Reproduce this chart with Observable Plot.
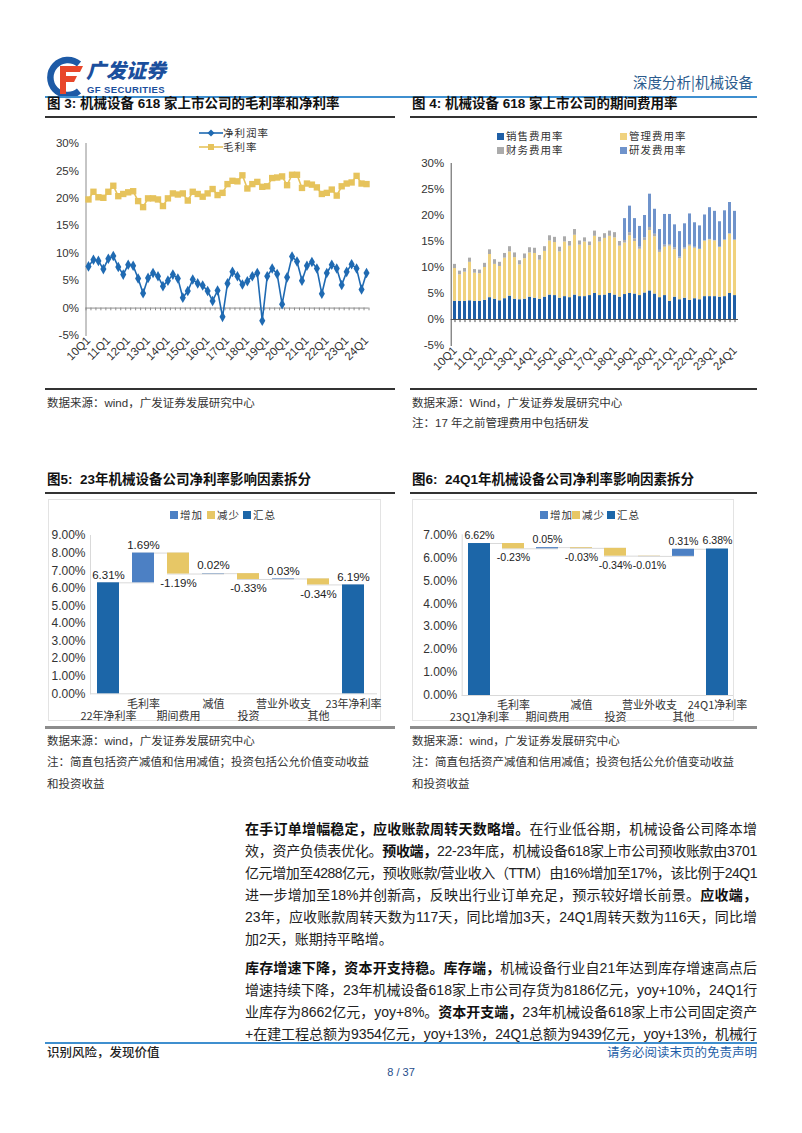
<!DOCTYPE html>
<html><head><meta charset="utf-8">
<script src="https://cdn.jsdelivr.net/npm/d3@7"></script>
<script src="https://cdn.jsdelivr.net/npm/@observablehq/plot@0.6"></script>
<style>
body{margin:0;background:#fff;}
#page{position:relative;width:802px;height:1133px;overflow:hidden;font-family:"Liberation Sans","Noto Sans CJK SC",sans-serif;color:#222;background:#fff;}
.abs{position:absolute;white-space:nowrap;}
.title{font-size:13.5px;font-weight:bold;color:#111;line-height:16px;}
.src{font-size:11.5px;color:#333;line-height:14px;}
.hl{position:absolute;}
.bl{position:absolute;left:245px;width:512px;font-size:14px;line-height:22px;height:22px;text-align:justify;text-align-last:justify;white-space:nowrap;color:#222;}
.bl b{font-weight:700;color:#111;}
.leg{font-size:10.5px;color:#333;letter-spacing:1px;line-height:12px;font-family:"Noto Sans CJK SC",sans-serif;}
.sw{display:inline-block;width:7px;height:7px;margin-right:2px;vertical-align:0px;}
.plot{position:absolute;}
</style></head>
<body><div id="page"></div>
<script>
// ---------------- DATA ----------------
const quarterLabels = ["10Q1","10Q2","10Q3","10Q4","11Q1","11Q2","11Q3","11Q4","12Q1","12Q2","12Q3","12Q4","13Q1","13Q2","13Q3","13Q4","14Q1","14Q2","14Q3","14Q4","15Q1","15Q2","15Q3","15Q4","16Q1","16Q2","16Q3","16Q4","17Q1","17Q2","17Q3","17Q4","18Q1","18Q2","18Q3","18Q4","19Q1","19Q2","19Q3","19Q4","20Q1","20Q2","20Q3","20Q4","21Q1","21Q2","21Q3","21Q4","22Q1","22Q2","22Q3","22Q4","23Q1","23Q2","23Q3","23Q4","24Q1"];
const axisQuarterTicks = ["10Q1","11Q1","12Q1","13Q1","14Q1","15Q1","16Q1","17Q1","18Q1","19Q1","20Q1","21Q1","22Q1","23Q1","24Q1"];

// Fig 3 (%)
const netMargin = [7.6,8.8,8.6,7.1,9.0,9.5,7.5,6.1,7.9,7.7,5.4,2.7,5.5,6.4,5.8,4.0,5.0,6.1,5.4,1.9,3.1,5.2,4.5,4.1,3.1,1.3,3.2,-1.6,4.5,6.6,5.8,4.3,4.9,5.8,6.4,-2.3,5.8,7.2,6.2,0.7,5.6,9.4,8.5,5.0,7.7,8.4,7.2,2.6,6.4,7.9,7.2,4.2,6.6,8.0,7.2,3.4,6.4];
const grossMargin = [19.8,21.2,20.2,20.1,21.2,22.3,20.4,20.8,21.1,21.3,19.5,18.4,20.0,20.0,19.8,18.6,20.0,20.9,20.7,20.9,19.6,21.2,20.8,20.3,20.9,21.7,20.6,21.0,22.6,23.2,23.1,24.2,21.8,22.6,23.0,22.1,22.2,23.7,23.8,24.0,22.4,24.3,24.3,21.9,22.7,22.5,22.0,20.8,21.0,21.6,20.5,22.2,22.7,22.9,24.1,22.7,22.6];
const marginSeries = ["净利润率","毛利率"];

// Fig 4 (%)
const expenseKinds = ["销售费用率","管理费用率","财务费用率","研发费用率"];
const salesExp   = [3.5,3.5,3.5,3.6,3.5,3.5,3.7,4.2,3.9,3.6,4.0,4.5,3.9,3.8,3.9,4.3,4.1,3.9,4.3,4.7,4.6,4.1,4.4,4.2,4.7,4.4,4.4,4.6,5.0,4.6,4.7,5.0,4.7,4.3,4.8,5.0,4.9,4.6,5.1,5.5,4.9,4.2,4.6,3.5,4.3,3.8,4.1,3.7,4.0,3.8,4.4,4.4,4.4,4.3,4.4,5.0,4.6];
const adminExp   = [6.3,5.1,5.6,7.4,5.4,5.3,6.3,8.3,6.7,6.6,7.8,8.5,8.0,6.7,7.8,8.5,8.6,7.5,8.8,10.4,10.2,8.9,10.5,9.9,11.5,9.9,10.5,9.6,11.0,10.3,10.9,11.0,11.0,9.8,9.9,11.1,10.1,8.9,10.1,11.6,11.0,8.7,9.3,10.6,9.1,7.9,9.4,10.4,9.7,9.7,10.7,10.9,10.7,9.6,10.8,11.4,10.6];
const financeExp = [0.8,0.7,0.7,0.8,0.7,0.7,0.8,0.9,0.9,0.8,0.9,1.0,0.9,0.8,0.9,1.0,1.0,0.9,0.9,1.0,1.0,0.9,1.0,0.9,1.1,0.8,0.8,0.7,1.0,0.9,0.9,1.0,1.0,0.9,0.5,0.6,0.5,0.4,0.5,0.6,0.5,0.4,0.4,0.3,0.4,0.3,0.3,0.3,0.2,-0.3,-0.2,0.1,0.1,-0.4,0.1,0.1,0.1];
const rdExp      = [0,0,0,0,0,0,0,0,0,0,0,0,0,0,0,0,0,0,0,0,0,0,0,0,0,0,0,0,0,0,0,0,0,0,4.2,5.1,3.9,4.0,4.3,6.4,4.8,4.0,5.9,5.8,4.4,4.9,4.6,5.9,4.7,4.5,5.0,6.1,5.6,4.9,5.6,6.0,5.5];

// Fig 5 / Fig 6 waterfalls (%)
const bridgeLegend = ["增加","减少","汇总"];
const fig5Cats = ["22年净利率","毛利率","期间费用","减值","投资","营业外收支","其他","23年净利率"];
const fig5Vals = [6.31,1.69,-1.19,0.02,-0.33,0.03,-0.34,6.19];
const fig6Cats = ["23Q1净利率","毛利率","期间费用","减值","投资","营业外收支","其他","24Q1净利率"];
const fig6Vals = [6.62,-0.23,0.05,-0.03,-0.34,-0.01,0.31,6.38];
const totalFlags = [true,false,false,false,false,false,false,true];

// ---------------- PAGE ----------------
const page = document.getElementById("page");
function add(html){ page.insertAdjacentHTML("beforeend", html); }
function hline(x,y,w,h,c){ add(`<div class="hl" style="left:${x}px;top:${y}px;width:${w}px;height:${h}px;background:${c}"></div>`); }
function txt(x,y,cls,s,extra=""){ add(`<div class="abs ${cls}" style="left:${x}px;top:${y}px;${extra}">${s}</div>`); }
function place(node,x,y){ node.classList.add("plot"); node.style.left=x+"px"; node.style.top=y+"px"; page.appendChild(node); }

const GOLD="#E6C35C", NAVY="#1F6AB2";
const C_SALES="#1F5FA6", C_ADMIN="#F0D27E", C_FIN="#ABABAB", C_RD="#6F93CB";
const C_UP="#4C80C4", C_DOWN="#E7C766", C_TOT="#1C66A8";

// header / logo
add(`<svg class="abs" style="left:45px;top:55px" width="40" height="44" viewBox="0 0 40 44">
<path d="M34 9 A17.5 17.5 0 1 0 34 36" fill="none" stroke="#1d5aa6" stroke-width="6.5"/>
<path d="M15 11 H38 L35 17 H21 V21 H32 L29 27 H21 V39 H15 Z" fill="#e8472b"/></svg>`);
txt(86,59,"", "广发证券", "font-size:20px;font-weight:900;color:#1b4f9d;line-height:22px;font-family:'Noto Sans CJK SC';font-style:italic;");
txt(87,84,"", "GF SECURITIES", "font-size:9.5px;font-weight:bold;color:#1b4f9d;line-height:11px;letter-spacing:0.4px;");
txt(633,73,"", "深度分析|机械设备", "font-size:14.5px;color:#2b5b8d;line-height:18px;font-family:'Noto Sans CJK SC';");
hline(45,96,712,2,"#3f8fcf");

// titles
txt(47,96,"title","图 3:&nbsp;机械设备 618 家上市公司的毛利率和净利率");
txt(412,96,"title","图 4:&nbsp;机械设备 618 家上市公司的期间费用率");
hline(45,116,350,1.5,"#333"); hline(410,116,347,1.5,"#333");

// ---------------- FIG 3 ----------------
const idx = quarterLabels.map((q,i)=>i);
const q1Idx = idx.filter(i=>axisQuarterTicks.includes(quarterLabels[i]));
const fig3 = Plot.plot({
  width:350,height:265,marginLeft:40.5,marginRight:26.5,marginTop:23,marginBottom:50,
  style:{fontFamily:"Liberation Sans, Arial, sans-serif",fontSize:"11.5px",color:"#333",background:"transparent"},
  x:{domain:[-0.5,56.5]},
  y:{domain:[-5,30]},
  marks:[
    Plot.frame({anchor:"left",stroke:"#8c8c8c"}),
    Plot.ruleY([0],{stroke:"#8c8c8c"}),
    Plot.ruleX(d3.range(-0.5,57,1),{x:d=>d,y1:0,y2:-0.5,stroke:"#8c8c8c"}),
    Plot.axisY({ticks:d3.range(-5,31,5),tickFormat:d=>d+"%",tickSize:0,tickPadding:7,label:null}),
    Plot.axisX({ticks:q1Idx,tickFormat:i=>quarterLabels[i],tickRotate:-45,tickSize:0,tickPadding:3,label:null}),
    Plot.line(idx,{x:i=>i,y:i=>grossMargin[i],stroke:GOLD,strokeWidth:1.6}),
    Plot.dot(idx,{x:i=>i,y:i=>grossMargin[i],symbol:"square",fill:GOLD,r:3.6}),
    Plot.line(idx,{x:i=>i,y:i=>netMargin[i],stroke:NAVY,strokeWidth:1.6}),
    Plot.dot(idx,{x:i=>i,y:i=>netMargin[i],symbol:"diamond",fill:NAVY,r:3.2})
  ]
});
place(fig3,45,120);
// legend fig3
add(`<div class="abs leg" style="left:199px;top:127px"><svg width="24" height="10" style="vertical-align:-1px"><line x1="0" y1="5" x2="24" y2="5" stroke="${NAVY}" stroke-width="1.6"/><path d="M12 1.5 L15.5 5 L12 8.5 L8.5 5Z" fill="${NAVY}"/></svg>${marginSeries[0]}</div>`);
add(`<div class="abs leg" style="left:199px;top:141px"><svg width="24" height="10" style="vertical-align:-1px"><line x1="0" y1="5" x2="24" y2="5" stroke="${GOLD}" stroke-width="1.6"/><rect x="9" y="2" width="6" height="6" fill="${GOLD}"/></svg>${marginSeries[1]}</div>`);

// ---------------- FIG 4 ----------------
const seriesArr = [salesExp,adminExp,financeExp,rdExp];
const tidy = quarterLabels.flatMap((q,i)=>expenseKinds.map((k,j)=>({q,k,v:seriesArr[j][i]})));
const fig4 = Plot.plot({
  width:345,height:268,marginLeft:40.7,marginRight:17,marginTop:43,marginBottom:43,
  style:{fontFamily:"Liberation Sans, Arial, sans-serif",fontSize:"11.5px",color:"#333",background:"transparent"},
  x:{type:"band",domain:quarterLabels,paddingInner:0.5,paddingOuter:0.25},
  y:{domain:[-5,30]},
  color:{domain:expenseKinds,range:[C_SALES,C_ADMIN,C_FIN,C_RD]},
  marks:[
    Plot.frame({anchor:"left",stroke:"#555"}),
    Plot.barY(tidy,{x:"q",y:"v",fill:"k",order:expenseKinds}),
    Plot.ruleY([0],{stroke:"#555"}),
    Plot.ruleX(quarterLabels,{x:d=>d,y1:0,y2:-0.6,stroke:"#555"}),
    Plot.axisY({ticks:d3.range(-5,31,5),tickFormat:d=>d+"%",tickSize:0,tickPadding:7,label:null}),
    Plot.axisX({ticks:axisQuarterTicks,tickRotate:-45,tickSize:0,tickPadding:3,label:null})
  ]
});
place(fig4,410,120);
const legCols = [C_SALES,C_ADMIN,C_FIN,C_RD];
const legPos = [[497,130],[620,130],[497,144],[620,144]];
expenseKinds.forEach((k,j)=>add(`<div class="abs leg" style="left:${legPos[j][0]}px;top:${legPos[j][1]}px"><span class="sw" style="background:${legCols[j]}"></span>${k}</div>`));

hline(45,388,350,1.5,"#333"); hline(410,388,347,1.5,"#333");
txt(47,396,"src","数据来源：wind，广发证券发展研究中心");
txt(412,396,"src","数据来源：Wind，广发证券发展研究中心");
txt(412,416,"src","注：17 年之前管理费用中包括研发");

// ---------------- FIG 5 / 6 ----------------
txt(47,472,"title","图5:&nbsp;&nbsp;23年机械设备公司净利率影响因素拆分");
txt(412,472,"title","图6:&nbsp;&nbsp;24Q1年机械设备公司净利率影响因素拆分");
hline(45,492,350,1.5,"#333"); hline(410,492,347,1.5,"#333");

function bridgeRows(cats,vals){
  let run=0;
  return cats.map((c,i)=>{
    const v=vals[i];
    let y1,y2,kind;
    if(totalFlags[i]){y1=0;y2=v;run=v;kind=bridgeLegend[2];}
    else{y1=run;y2=run+v;run+=v;kind=v>=0?bridgeLegend[0]:bridgeLegend[1];}
    return {c,v,y1,y2,kind,lo:Math.min(y1,y2),hi:Math.max(y1,y2),end:run,up:totalFlags[i]||v>=0};
  });
}
function bridge(cats,vals,o){
  const rows=bridgeRows(cats,vals);
  const links=rows.slice(0,-1).map((r,i)=>({a:r.c,b:rows[i+1].c,y:r.end}));
  return Plot.plot({
    width:o.w,height:225,marginLeft:o.ml,marginRight:o.mr,marginTop:o.mt,marginBottom:225-o.y0,
    style:{fontFamily:"Liberation Sans, Arial, sans-serif",fontSize:"12px",color:"#333",background:"transparent"},
    x:{type:"band",domain:cats,range:o.xr,paddingInner:0.36,paddingOuter:0.18},
    y:{domain:[0,o.ymax]},
    color:{domain:bridgeLegend,range:[C_UP,C_DOWN,C_TOT]},
    marks:[
      Plot.frame({anchor:"left",stroke:"#d9d9d9"}),
      Plot.ruleY([0],{stroke:"#d9d9d9"}),
      Plot.ruleY(links,{x1:"a",x2:"b",y:"y",stroke:"#d9d9d9",strokeWidth:1}),
      Plot.barY(rows,{x:"c",y1:"y1",y2:"y2",fill:"kind"}),
      Plot.text(rows.filter(r=>r.up),{x:"c",y:"hi",text:r=>r.v.toFixed(2)+"%",dy:-8,fill:"#222",fontSize:o.fs}),
      Plot.text(rows.filter(r=>!r.up),{x:"c",y:"lo",text:r=>r.v.toFixed(2)+"%",dy:9,fill:"#222",fontSize:o.fs}),
      Plot.axisY({ticks:d3.range(0,o.ymax+0.01,1),tickFormat:d=>d.toFixed(2)+"%",tickSize:0,tickPadding:5,label:null}),
      Plot.axisX({ticks:cats.filter((c,i)=>i%2===1),tickSize:0,tickPadding:6,label:null,fontSize:11,fontFamily:"Noto Sans CJK SC"}),
      Plot.axisX({ticks:cats.filter((c,i)=>i%2===0),tickSize:0,tickPadding:18,label:null,fontSize:11,fontFamily:"Noto Sans CJK SC"})
    ]
  });
}
add(`<div class="abs" style="left:48px;top:499px;width:333px;height:222px;border:1px solid #e3e3e3;box-sizing:border-box"></div>`);
add(`<div class="abs" style="left:412px;top:499px;width:322px;height:222px;border:1px solid #e3e3e3;box-sizing:border-box"></div>`);
place(bridge(fig5Cats,fig5Vals,{w:345,ml:45,mr:13,mt:35,y0:193.3,ymax:9,xr:[45,327],fs:11.5}),45,500);
place(bridge(fig6Cats,fig6Vals,{w:345,ml:51.7,mr:22,mt:34.3,y0:195,ymax:7,xr:[51.7,324.5],fs:10.6}),410,500);
const bcols=[C_UP,C_DOWN,C_TOT];
[[170,207,243],[540,572,607]].forEach(xs=>xs.forEach((x,j)=>add(`<div class="abs leg" style="left:${x}px;top:509px"><span class="sw" style="background:${bcols[j]};width:8px;height:8px"></span>${bridgeLegend[j]}</div>`)));

hline(45,726,350,2.5,"#8c8c8c"); hline(410,726,347,2.5,"#8c8c8c");
txt(47,734,"src","数据来源：wind，广发证券发展研究中心");
txt(47,755,"src","注：简直包括资产减值和信用减值；投资包括公允价值变动收益");
txt(47,777,"src","和投资收益");
txt(412,734,"src","数据来源：wind，广发证券发展研究中心");
txt(412,755,"src","注：简直包括资产减值和信用减值；投资包括公允价值变动收益");
txt(412,777,"src","和投资收益");

// ---------------- BODY TEXT ----------------
const bodyLines = [
 [818,"<b>在手订单增幅稳定，应收账款周转天数略增。</b>在行业低谷期，机械设备公司降本增",true],
 [840,"效，资产负债表优化。<b>预收端，</b>22-23年底，机械设备618家上市公司预收账款由3701",true],
 [862,"亿元增加至4288亿元，预收账款/营业收入（TTM）由16%增加至17%，该比例于24Q1",true],
 [884,"进一步增加至18%并创新高，反映出行业订单充足，预示较好增长前景。<b>应收端，</b>",true],
 [906,"23年，应收账款周转天数为117天，同比增加3天，24Q1周转天数为116天，同比增",true],
 [928,"加2天，账期持平略增。",false],
 [957,"<b>库存增速下降，资本开支持稳。库存端，</b>机械设备行业自21年达到库存增速高点后",true],
 [979,"增速持续下降，23年机械设备618家上市公司存货为8186亿元，yoy+10%，24Q1行",true],
 [1001,"业库存为8662亿元，yoy+8%。<b>资本开支端，</b>23年机械设备618家上市公司固定资产",true],
 [1023,"+在建工程总额为9354亿元，yoy+13%，24Q1总额为9439亿元，yoy+13%，机械行",true]
];
bodyLines.forEach(([y,s,j])=>add(`<div class="bl" style="top:${y}px;${j?"":"text-align:left;text-align-last:left;"}">${s}</div>`));
document.querySelectorAll(".bl").forEach(el=>{
  let ls=0;
  while(el.scrollWidth>el.clientWidth && ls>-3){ ls-=0.1; el.style.letterSpacing=ls.toFixed(1)+"px"; }
});

// footer
hline(45,1042,712,1.5,"#3f8fcf");
txt(47,1045,"", "识别风险，发现价值", "font-size:12.5px;color:#222;line-height:16px;font-weight:500;");
txt(0,1045,"", "请务必阅读末页的免责声明", "left:auto;right:45px;font-size:12.5px;color:#1f5fa8;line-height:16px;");
txt(0,1065,"", "8 / 37", "left:0;width:802px;text-align:center;font-size:11px;color:#1f4e8c;line-height:14px;");
</script>
</body></html>
